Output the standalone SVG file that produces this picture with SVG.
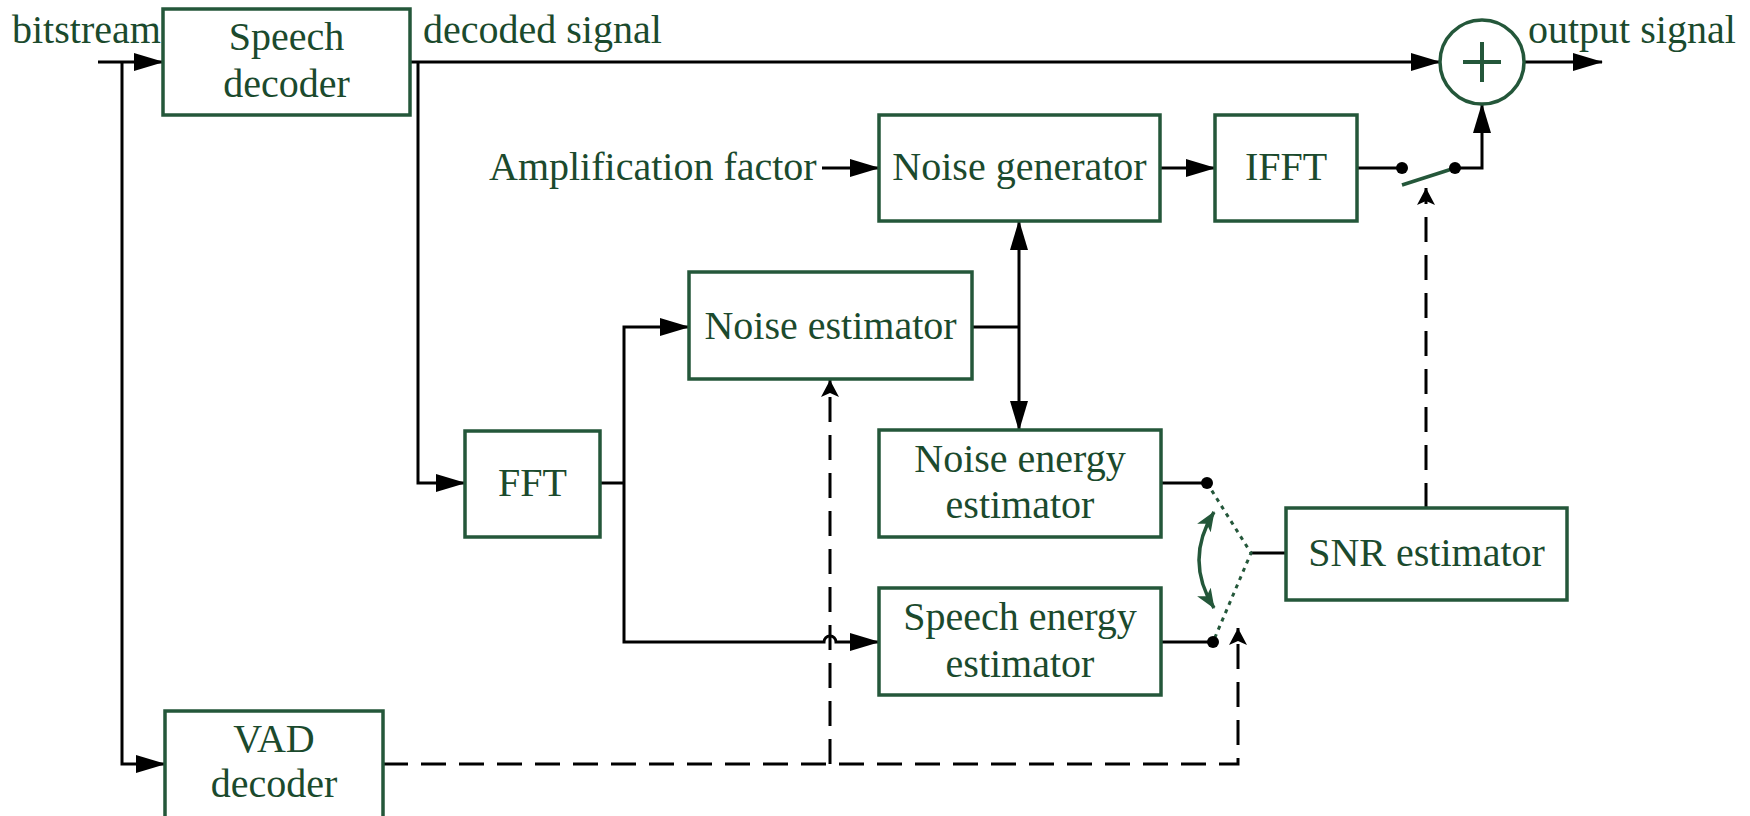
<svg xmlns="http://www.w3.org/2000/svg" width="1750" height="816" viewBox="0 0 1750 816">
<style>
  .box { fill: #ffffff; stroke: #24573a; stroke-width: 3.5; }
  .lbl { font-family: "Liberation Serif", "Times New Roman", serif; font-size: 40px; fill: #1b4a2d; }
  .c { text-anchor: middle; }
  .ln { fill: none; stroke: #000000; stroke-width: 3; }
  .dash { fill: none; stroke: #000000; stroke-width: 3; stroke-dasharray: 25 13; }
  .dot { fill: none; stroke: #24573a; stroke-width: 3; stroke-dasharray: 4 5; }
  .grn { fill: none; stroke: #24573a; stroke-width: 3.5; }
</style>
<defs>
  <marker id="arr" viewBox="0 0 30 18" refX="29" refY="9" markerWidth="30" markerHeight="18" markerUnits="userSpaceOnUse" orient="auto">
    <path d="M0,0 L30,9 L0,18 Z" fill="#000000"/>
  </marker>
  <marker id="sarr" viewBox="0 0 17 18" refX="17" refY="9" markerWidth="17" markerHeight="18" markerUnits="userSpaceOnUse" orient="auto">
    <path d="M0,0 L17,9 L0,18 L4,9 Z" fill="#000000"/>
  </marker>
  <marker id="garr" viewBox="0 0 20 16" refX="19" refY="8" markerWidth="20" markerHeight="16" markerUnits="userSpaceOnUse" orient="auto-start-reverse">
    <path d="M0,0 L20,8 L0,16 L5,8 Z" fill="#24573a"/>
  </marker>
</defs>

<g id="connectors">
  <path class="ln" d="M98,62 H163" marker-end="url(#arr)"/>
  <path class="ln" d="M122,62 V764 H165" marker-end="url(#arr)"/>
  <path class="ln" d="M410,62 H1440" marker-end="url(#arr)"/>
  <path class="ln" d="M418,62 V483 H465" marker-end="url(#arr)"/>
  <path class="ln" d="M1524,62 H1602" marker-end="url(#arr)"/>
  <path class="ln" d="M600,483 H624"/>
  <path class="ln" d="M624,483 V327 H689" marker-end="url(#arr)"/>
  <path class="ln" d="M624,483 V642 H824 A6,6 0 0 1 836,642 H879" marker-end="url(#arr)"/>
  <path class="ln" d="M972,327 H1019"/>
  <path class="ln" d="M1019,327 V221" marker-end="url(#arr)"/>
  <path class="ln" d="M1019,327 V430" marker-end="url(#arr)"/>
  <path class="ln" d="M822,168 H879" marker-end="url(#arr)"/>
  <path class="ln" d="M1160,168 H1215" marker-end="url(#arr)"/>
  <path class="ln" d="M1357,168 H1402"/>
  <path class="ln" d="M1455,168 H1482 V104" marker-end="url(#arr)"/>
  <path class="ln" d="M1161,483 H1207"/>
  <path class="ln" d="M1161,642 H1213"/>
  <path class="ln" d="M1251,553 H1286"/>
  <path class="dash" d="M383,764 H1238 V628" marker-end="url(#sarr)"/>
  <path class="dash" d="M830,764 V380" marker-end="url(#sarr)"/>
  <path class="dash" d="M1426,508 V188" marker-end="url(#sarr)"/>
  <path class="dot" d="M1207,483 L1251,553 L1213,642"/>
  <path class="grn" d="M1402,185 L1455,168"/>
  <path class="grn" d="M1214,512 Q1184,560 1214,608" marker-start="url(#garr)" marker-end="url(#garr)"/>
  <circle cx="1402" cy="168" r="6" fill="#000000"/>
  <circle cx="1455" cy="168" r="6" fill="#000000"/>
  <circle cx="1207" cy="483" r="6" fill="#000000"/>
  <circle cx="1213" cy="642" r="6" fill="#000000"/>
</g>

<g id="labels">
  <text class="lbl" x="12" y="43">bitstream</text>
  <text class="lbl" x="423" y="43">decoded signal</text>
  <text class="lbl" x="1528" y="43">output signal</text>
  <text class="lbl" x="489" y="180">Amplification factor</text>
</g>

<g id="speech-decoder">
  <rect class="box" x="163" y="9" width="247" height="106"/>
  <text class="lbl c" x="286.5" y="50">Speech</text>
  <text class="lbl c" x="286.5" y="97">decoder</text>
</g>
<g id="vad-decoder">
  <rect class="box" x="165" y="711" width="218" height="115"/>
  <text class="lbl c" x="274" y="752">VAD</text>
  <text class="lbl c" x="274" y="797">decoder</text>
</g>
<g id="fft">
  <rect class="box" x="465" y="431" width="135" height="106"/>
  <text class="lbl c" x="532.5" y="496">FFT</text>
</g>
<g id="noise-estimator">
  <rect class="box" x="689" y="272" width="283" height="107"/>
  <text class="lbl c" x="830.5" y="339">Noise estimator</text>
</g>
<g id="noise-generator">
  <rect class="box" x="879" y="115" width="281" height="106"/>
  <text class="lbl c" x="1019.5" y="180">Noise generator</text>
</g>
<g id="ifft">
  <rect class="box" x="1215" y="115" width="142" height="106"/>
  <text class="lbl c" x="1286" y="180">IFFT</text>
</g>
<g id="noise-energy-estimator">
  <rect class="box" x="879" y="430" width="282" height="107"/>
  <text class="lbl c" x="1020" y="472">Noise energy</text>
  <text class="lbl c" x="1020" y="518">estimator</text>
</g>
<g id="speech-energy-estimator">
  <rect class="box" x="879" y="588" width="282" height="107"/>
  <text class="lbl c" x="1020" y="630">Speech energy</text>
  <text class="lbl c" x="1020" y="677">estimator</text>
</g>
<g id="snr-estimator">
  <rect class="box" x="1286" y="508" width="281" height="92"/>
  <text class="lbl c" x="1426.5" y="566">SNR estimator</text>
</g>
<g id="adder">
  <circle cx="1482" cy="62" r="42" fill="#ffffff" stroke="#24573a" stroke-width="3.5"/>
  <path d="M1463,62 H1501 M1482,42 V82" stroke="#24573a" stroke-width="4" fill="none"/>
</g>
</svg>
